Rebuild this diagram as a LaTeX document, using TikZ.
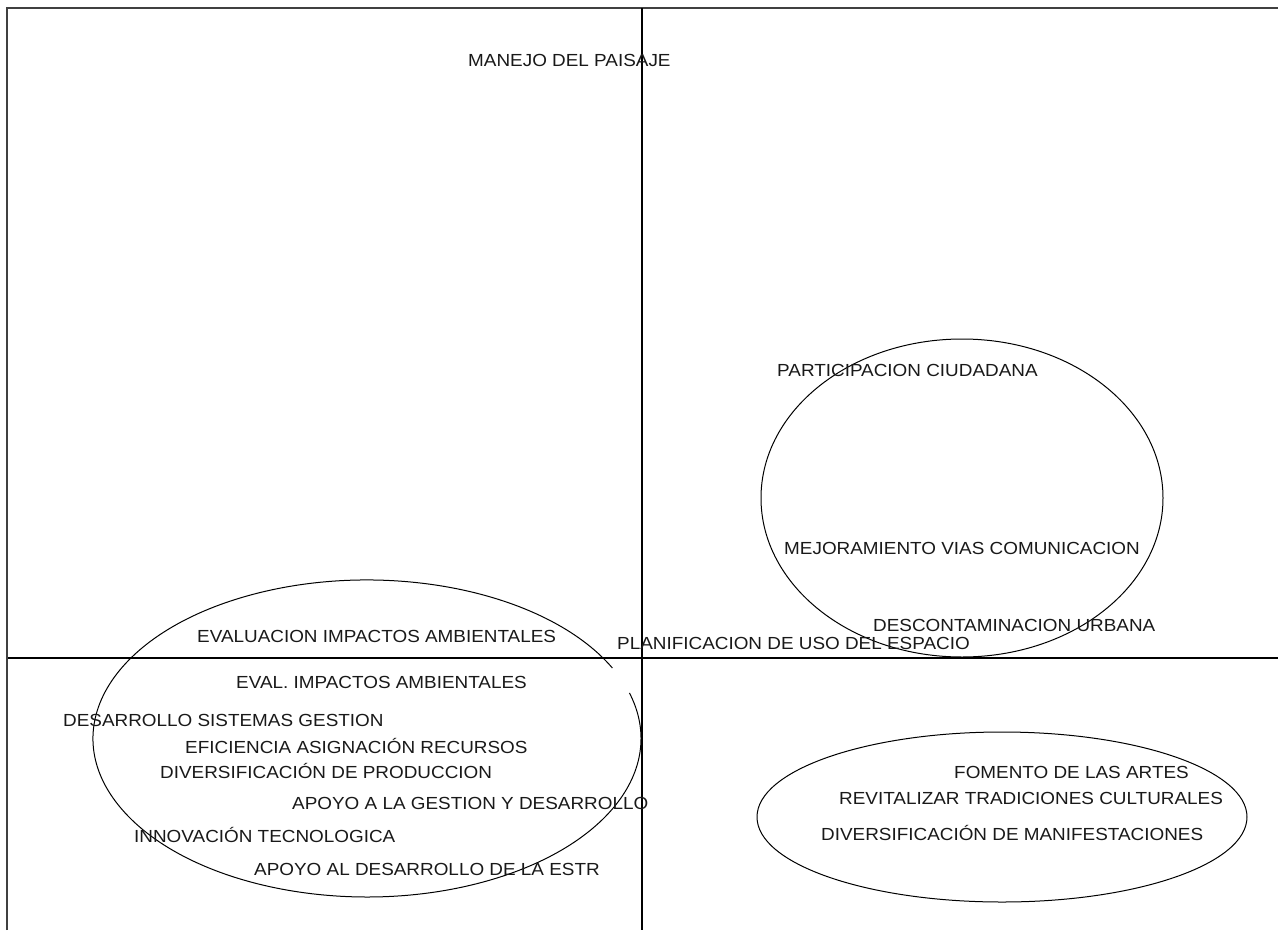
\documentclass[tikz,border=0pt]{standalone}
\usepackage{fontspec}
\setmainfont{Liberation Sans}[FakeStretch=1.08]
\begin{document}
\begin{tikzpicture}[x=1pt,y=-1pt,
  lbl/.style={anchor=west,inner sep=0pt,font=\fontsize{17.5}{20}\selectfont,text=black!90},
  axis/.style={line width=1.1pt,black},
  frameline/.style={line width=1.6pt,black!75},
  group/.style={line width=1pt,black}]
\useasboundingbox (0,0) rectangle (1278,930);
% outer frame (top and left edges)
\draw[frameline] (7,930) -- (7,8) -- (1278,8);
% axes
\draw[axis] (642,8) -- (642,930);
\draw[axis] (8,658) -- (1278,658);
% groups
\draw[group] (962,498) ellipse [x radius=201, y radius=159];
\draw[group] (1002,817) ellipse [x radius=245, y radius=85];
\draw[group] (612.4,668) arc[start angle=26.4, end angle=376.7, x radius=274pt, y radius=158.5pt];
% labels
\node[lbl] (paisaje) at (468,60) {MANEJO DEL PAISAJE};
\node[lbl] (particip) at (777,370) {PARTICIPACION CIUDADANA};
\node[lbl] (vias) at (784,548) {MEJORAMIENTO VIAS COMUNICACION};
\node[lbl] (descont) at (873,625) {DESCONTAMINACION URBANA};
\node[lbl] (planif) at (617,643) {PLANIFICACION DE USO DEL ESPACIO};
\node[lbl] (evalia) at (197,636) {EVALUACION IMPACTOS AMBIENTALES};
\node[lbl] (evalb) at (236,682) {EVAL. IMPACTOS AMBIENTALES};
\node[lbl] (sistemas) at (63,720) {DESARROLLO SISTEMAS GESTION};
\node[lbl] (eficiencia) at (185,746) {EFICIENCIA ASIGNACIÓN RECURSOS};
\node[lbl] (diverprod) at (160,771) {DIVERSIFICACIÓN DE PRODUCCION};
\node[lbl] (apoyogest) at (292,803) {APOYO A LA GESTION Y DESARROLLO};
\node[lbl] (innov) at (134,835) {INNOVACIÓN TECNOLOGICA};
\node[lbl] (apoyoestr) at (254,869) {APOYO AL DESARROLLO DE LA ESTR};
\node[lbl] (fomento) at (954,772) {FOMENTO DE LAS ARTES};
\node[lbl] (revital) at (839,798) {REVITALIZAR TRADICIONES CULTURALES};
\node[lbl] (divermanif) at (821,833) {DIVERSIFICACIÓN DE MANIFESTACIONES};
\end{tikzpicture}
\end{document}
